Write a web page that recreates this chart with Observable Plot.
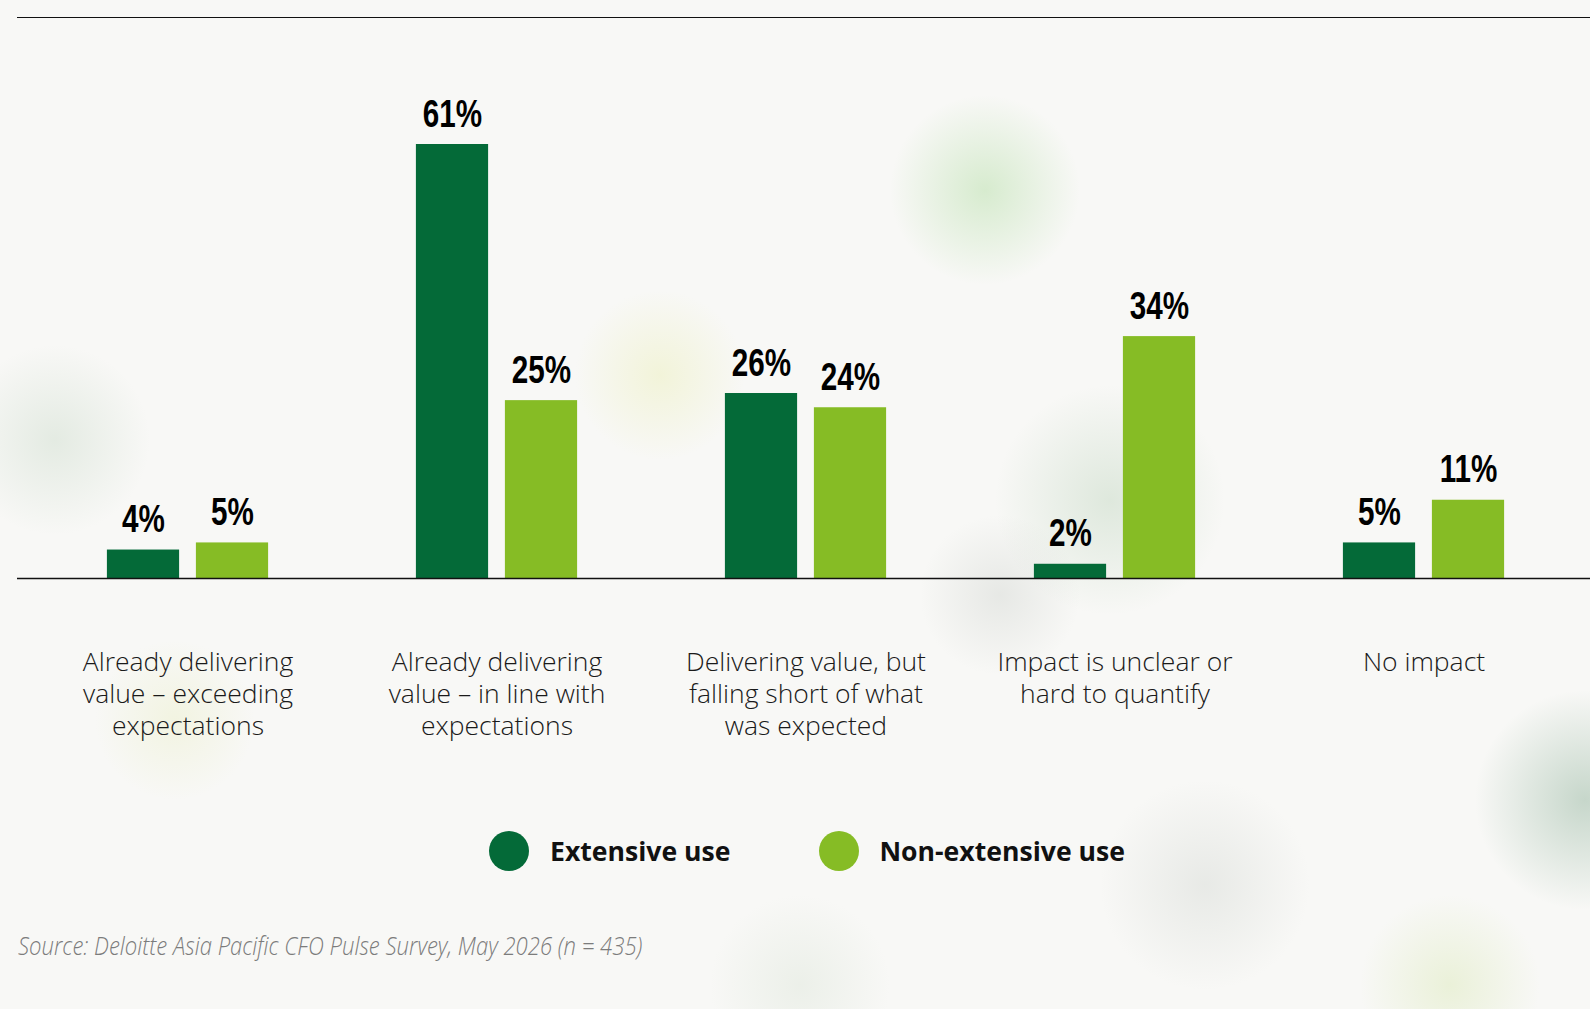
<!DOCTYPE html>
<html>
<head>
<meta charset="utf-8">
<script src="https://cdn.jsdelivr.net/npm/d3@7"></script>
<script src="https://cdn.jsdelivr.net/npm/@observablehq/plot@0.6"></script>
<style>
  html, body { margin: 0; padding: 0; }
  body {
    width: 1590px; height: 1009px; overflow: hidden; position: relative;
    background-color: #f8f8f6;
    background-image:
      radial-gradient(circle at 985px 190px, rgba(150,210,130,0.34) 0, rgba(150,210,130,0) 95px),
      radial-gradient(circle at 660px 375px, rgba(232,236,170,0.38) 0, rgba(232,236,170,0) 85px),
      radial-gradient(circle at 1110px 500px, rgba(130,175,130,0.22) 0, rgba(130,175,130,0) 115px),
      radial-gradient(circle at 55px 440px, rgba(175,200,175,0.28) 0, rgba(175,200,175,0) 95px),
      radial-gradient(circle at 1585px 800px, rgba(110,155,125,0.36) 0, rgba(110,155,125,0) 110px),
      radial-gradient(circle at 1205px 885px, rgba(185,192,185,0.26) 0, rgba(185,192,185,0) 105px),
      radial-gradient(circle at 1000px 595px, rgba(175,182,175,0.24) 0, rgba(175,182,175,0) 80px),
      radial-gradient(circle at 175px 720px, rgba(225,232,170,0.28) 0, rgba(225,232,170,0) 80px),
      radial-gradient(circle at 1450px 985px, rgba(205,225,155,0.32) 0, rgba(205,225,155,0) 90px),
      radial-gradient(circle at 800px 985px, rgba(200,215,195,0.26) 0, rgba(200,215,195,0) 90px);
  }
  #topline { position: absolute; left: 17px; right: 0; top: 17px; height: 0; border-top: 1.5px solid #111; }
  #chart { position: absolute; left: 0; top: 0; }
  #legend { position: absolute; left: 489px; top: 831px; display: flex; align-items: center;
    font-family: "Open Sans", sans-serif; font-weight: 700; font-size: 26.6px; color: #111; }
  #legend .sw { width: 40px; height: 40px; border-radius: 50%; margin-right: 21px; }
  #legend .item { display: flex; align-items: center; margin-right: 88px; }
  #source { position: absolute; left: 18px; top: 932px; font-family: "Open Sans", sans-serif;
    font-style: italic; font-weight: 300; font-size: 26px; line-height: 1; color: #7c7c7c;
    transform: scaleX(0.85); transform-origin: left center; white-space: nowrap; }
</style>
</head>
<body>
<div id="topline"></div>
<div id="chart"></div>
<div id="legend"></div>
<div id="source">Source: Deloitte Asia Pacific CFO Pulse Survey, May 2026 (n = 435)</div>
<script>
const categories = [
  "Already delivering\nvalue – exceeding\nexpectations",
  "Already delivering\nvalue – in line with\nexpectations",
  "Delivering value, but\nfalling short of what\nwas expected",
  "Impact is unclear or\nhard to quantify",
  "No impact"
];
const seriesNames = ["Extensive use", "Non-extensive use"];
const extensiveUse = [4, 61, 26, 2, 5];
const nonExtensiveUse = [5, 25, 24, 34, 11];
const seriesColors = ["#046a38", "#86bc25"];

const data = categories.flatMap((c, i) => [
  {category: c, series: seriesNames[0], value: extensiveUse[i]},
  {category: c, series: seriesNames[1], value: nonExtensiveUse[i]}
]);

const xRange = [31, 1580];
const band = (xRange[1] - xRange[0]) / categories.length;
const barW = 73, gap = 16;
const inner = band / 2 - gap / 2 - barW;
const near = band / 2 + gap / 2;

const labelFont = {fontFamily: "'Liberation Sans Narrow', 'Liberation Sans', Arial, sans-serif", fontWeight: "bold", fontSize: 38, fill: "#000"};

const chart = Plot.plot({
  width: 1590,
  height: 758,
  marginLeft: 17,
  marginRight: 0,
  marginTop: 144,
  marginBottom: 180,
  style: {background: "transparent"},
  x: {domain: categories, range: xRange, paddingInner: 0, paddingOuter: 0},
  y: {domain: [0, d3.max([...extensiveUse, ...nonExtensiveUse])], axis: null},
  marks: [
    Plot.barY(data.filter(d => d.series === seriesNames[0]), {
      x: "category", y: "value", fill: seriesColors[0], insetLeft: inner, insetRight: near
    }),
    Plot.barY(data.filter(d => d.series === seriesNames[1]), {
      x: "category", y: "value", fill: seriesColors[1], insetLeft: near, insetRight: inner
    }),
    Plot.ruleY([0], {stroke: "#111", strokeWidth: 1.5}),
    Plot.text(data.filter(d => d.series === seriesNames[0]), {
      x: "category", y: "value", text: d => d.value + "%", dx: -(gap / 2 + barW / 2), dy: -18,
      lineAnchor: "bottom", ...labelFont
    }),
    Plot.text(data.filter(d => d.series === seriesNames[1]), {
      x: "category", y: "value", text: d => d.value + "%", dx: (gap / 2 + barW / 2), dy: -18,
      lineAnchor: "bottom", ...labelFont
    }),
    Plot.axisX({
      tickSize: 0, tickPadding: 70, label: null,
      fontFamily: "'Open Sans', sans-serif", fontWeight: 300, fontSize: 26.5,
      lineHeight: 1.21, fill: "#1a1a1a"
    })
  ]
});
// condense the bold value labels (narrow bold face): append a horizontal scale
// to each label's own transform so it shrinks about its anchor point
d3.select(chart).selectAll("g[aria-label='text'] text").each(function() {
  const t = this.getAttribute("transform") || "";
  this.setAttribute("transform", (t + " scale(0.78,1)").trim());
});
document.getElementById("chart").appendChild(chart);

const legend = document.getElementById("legend");
seriesNames.forEach((name, i) => {
  const item = document.createElement("div");
  item.className = "item";
  const sw = document.createElement("div");
  sw.className = "sw";
  sw.style.background = seriesColors[i];
  const label = document.createElement("span");
  label.textContent = name;
  item.appendChild(sw);
  item.appendChild(label);
  legend.appendChild(item);
});
</script>
</body>
</html>
